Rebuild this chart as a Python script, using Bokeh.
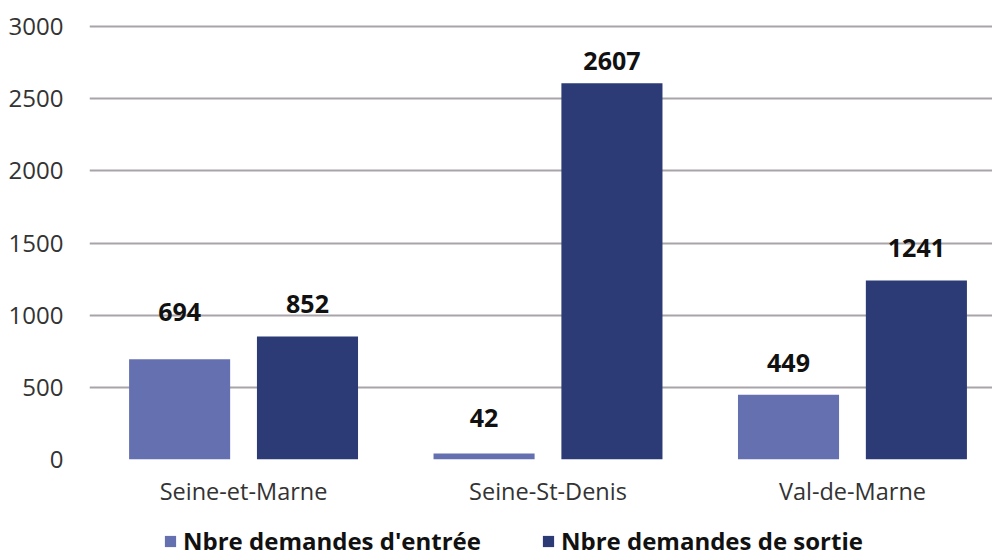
from bokeh.plotting import figure
from bokeh.models import (ColumnDataSource, Range1d, FixedTicker, Legend, LegendItem)
from bokeh.layouts import column
from bokeh.embed import file_html
from bokeh.resources import INLINE
from bokeh.core.properties import value

categories = ["Seine-et-Marne", "Seine-St-Denis", "Val-de-Marne"]
series_names = ["Nbre demandes d'entrée", "Nbre demandes de sortie"]
entree = [694, 42, 449]
sortie = [852, 2607, 1241]
y_ticks = [0, 500, 1000, 1500, 2000, 2500, 3000]

# styling (pixel lift of each value label above its bar)
lift_entree = [37, 25, 22]
lift_sortie = [23, 12, 22]
baseline_fix = 10
col_entree = "#6570b0"
col_sortie = "#2c3a75"
offset = 0.21
bar_w = 0.332

p = figure(width=992, height=515, output_backend="svg", toolbar_location=None,
           x_range=Range1d(-0.506, 2.46), y_range=Range1d(0, 3014),
           min_border_left=89, min_border_right=0, min_border_top=24,
           min_border_bottom=56)
p.outline_line_color = None
p.background_fill_color = "white"
p.border_fill_color = "white"

xs = list(range(len(categories)))
src_e = ColumnDataSource(dict(x=[i - offset for i in xs], top=entree,
                              lab=[str(v) for v in entree],
                              lift=[-(l + baseline_fix) for l in lift_entree]))
src_s = ColumnDataSource(dict(x=[i + offset for i in xs], top=sortie,
                              lab=[str(v) for v in sortie],
                              lift=[-(l + baseline_fix) for l in lift_sortie]))

p.vbar(x="x", top="top", width=bar_w, source=src_e, fill_color=col_entree,
       line_color=None)
p.vbar(x="x", top="top", width=bar_w, source=src_s, fill_color=col_sortie,
       line_color=None)

for src in (src_e, src_s):
    p.text(x="x", y="top", text="lab", source=src, y_offset="lift",
           text_align="center", text_baseline="alphabetic",
           text_font=value("Open Sans"), text_font_style="bold",
           text_font_size="25px", text_color="#111111")

p.xgrid.visible = False
p.ygrid.ticker = FixedTicker(ticks=y_ticks)
p.ygrid.grid_line_color = "#aaa4aa"
p.ygrid.grid_line_width = 2

p.yaxis.ticker = FixedTicker(ticks=y_ticks)
p.yaxis.axis_line_color = None
p.yaxis.major_tick_line_color = None
p.yaxis.minor_tick_line_color = None
p.yaxis.major_tick_out = 0
p.yaxis.minor_tick_out = 0
p.yaxis.major_label_standoff = 26
p.yaxis.major_label_text_font = "Open Sans"
p.yaxis.major_label_text_font_size = "24px"
p.yaxis.major_label_text_color = "#333333"

p.xaxis.ticker = FixedTicker(ticks=xs)
p.xaxis.major_label_overrides = {i: c for i, c in zip(xs, categories)}
p.xaxis.axis_line_color = None
p.xaxis.major_tick_line_color = None
p.xaxis.minor_tick_line_color = None
p.xaxis.major_tick_out = 0
p.xaxis.minor_tick_out = 0
p.xaxis.major_label_standoff = 15
p.xaxis.major_label_text_font = "Open Sans"
p.xaxis.major_label_text_font_size = "23.5px"
p.xaxis.major_label_text_color = "#333333"

# legend strip below the chart (its frame is aligned with the chart's frame)
q = figure(width=992, height=42, output_backend="svg", toolbar_location=None,
           x_range=Range1d(0, 1), y_range=Range1d(0, 1),
           min_border_left=0, min_border_right=0, min_border_top=0,
           min_border_bottom=0)
q.axis.visible = False
q.grid.visible = False
q.outline_line_color = None
q.border_fill_color = "white"
l_e = q.vbar(x=[5], top=[5], width=0.1, fill_color=col_entree, line_color=None)
l_s = q.vbar(x=[5], top=[5], width=0.1, fill_color=col_sortie, line_color=None)

legend = Legend(items=[LegendItem(label=series_names[0], renderers=[l_e]),
                       LegendItem(label=series_names[1], renderers=[l_s])],
                orientation="horizontal", location=(74, 0),
                label_text_font="Open Sans", label_text_font_style="bold",
                label_text_font_size="24px", label_text_color="#111111",
                glyph_width=14, glyph_height=14, spacing=60,
                border_line_color=None, background_fill_alpha=0,
                padding=0, margin=0, label_standoff=6)
q.add_layout(legend, "center")

layout = column(p, q, spacing=0)
open("out.html", "w").write(file_html(layout, INLINE))
